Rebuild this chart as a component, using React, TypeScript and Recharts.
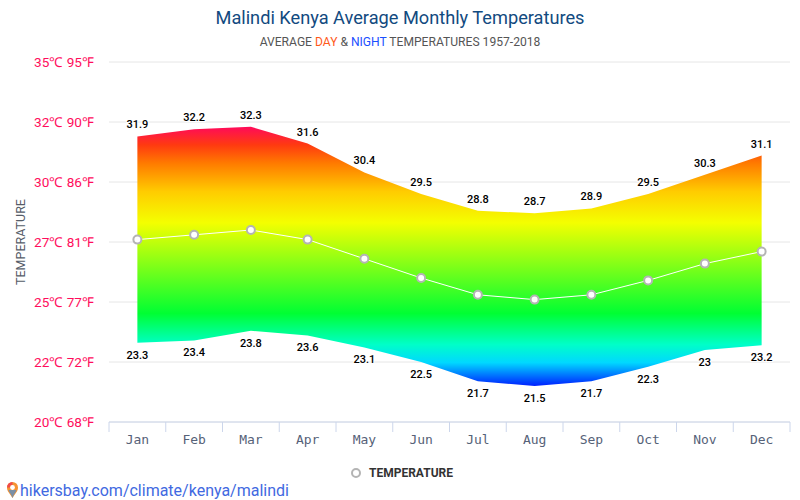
import {
  ComposedChart,
  Area,
  Line,
  XAxis,
  YAxis,
  CartesianGrid,
  LabelList,
  Legend,
} from "recharts";

const months = ["Jan", "Feb", "Mar", "Apr", "May", "Jun", "Jul", "Aug", "Sep", "Oct", "Nov", "Dec"];
const dayTemps = [31.9, 32.2, 32.3, 31.6, 30.4, 29.5, 28.8, 28.7, 28.9, 29.5, 30.3, 31.1];
const nightTemps = [23.3, 23.4, 23.8, 23.6, 23.1, 22.5, 21.7, 21.5, 21.7, 22.3, 23, 23.2];
const meanTemps = [27.6, 27.8, 28, 27.6, 26.8, 26, 25.3, 25.1, 25.3, 25.9, 26.6, 27.1];

const yTicks = [20, 22.5, 25, 27.5, 30, 32.5, 35];
const yLabels = ["20℃ 68℉", "22℃ 72℉", "25℃ 77℉", "27℃ 81℉", "30℃ 86℉", "32℃ 90℉", "35℃ 95℉"];

const chartData = months.map((month, i) => ({
  month,
  range: [nightTemps[i], dayTemps[i]],
  day: dayTemps[i],
  night: nightTemps[i],
  mean: meanTemps[i],
}));

const FONT = "Roboto, sans-serif";
const BAND = 681 / 12;

function MonthTick({ x, y, index, payload }: any) {
  const left = x - BAND / 2;
  return (
    <g>
      <line x1={left} x2={left} y1={422} y2={432} stroke="#ccd6eb" />
      {index === months.length - 1 && (
        <line x1={left + BAND} x2={left + BAND} y1={422} y2={432} stroke="#ccd6eb" />
      )}
      <text
        x={x}
        y={y + 14}
        textAnchor="middle"
        fontFamily="'DejaVu Sans Mono', monospace"
        fontSize={13}
        fill="#566278"
      >
        {payload.value}
      </text>
    </g>
  );
}

function LegendContent() {
  return (
    <svg width={800} height={20} style={{ display: "block" }}>
      <circle cx={356} cy={10} r={4} fill="#fff" stroke="#b4b4b4" strokeWidth={2} />
      <text x={369} y={14} fontFamily={FONT} fontSize={12} fontWeight={700} fill="#333">
        TEMPERATURE
      </text>
    </svg>
  );
}

const labelStyle = {
  fontFamily: FONT,
  fontSize: 11,
  fontWeight: 500,
  fill: "#000",
  stroke: "#fff",
  strokeWidth: 2,
  paintOrder: "stroke",
};

export default function App() {
  return (
    <div style={{ position: "absolute", left: 0, top: 0, width: 800, height: 500, background: "#fff", overflow: "hidden" }}>
      <div style={{ position: "absolute", left: 0, width: 800, top: 7, textAlign: "center", fontFamily: FONT, fontSize: 18.2, lineHeight: "22px", color: "#124a80" }}>
        Malindi Kenya Average Monthly Temperatures
      </div>
      <div style={{ position: "absolute", left: 0, width: 800, top: 34, textAlign: "center", fontFamily: FONT, fontSize: 12.1, lineHeight: "16px", color: "#555" }}>
        AVERAGE <span style={{ color: "#ff5a1a" }}>DAY</span> &amp; <span style={{ color: "#1a4fff" }}>NIGHT</span> TEMPERATURES 1957-2018
      </div>

      <ComposedChart
        width={800}
        height={500}
        data={chartData}
        margin={{ top: 62, right: 10, bottom: 28, left: 0 }}
      >
        <defs>
          <linearGradient id="tempFill" x1="0" y1="0" x2="0" y2="1">
            <stop offset="0" stopColor="#ff0a5a" />
            <stop offset="0.07" stopColor="#ff3a10" />
            <stop offset="0.14" stopColor="#ff7a00" />
            <stop offset="0.25" stopColor="#ffcc00" />
            <stop offset="0.37" stopColor="#f4ff00" />
            <stop offset="0.72" stopColor="#00ff33" />
            <stop offset="0.84" stopColor="#00ffc8" />
            <stop offset="0.91" stopColor="#00d8ff" />
            <stop offset="1" stopColor="#0020ff" />
          </linearGradient>
        </defs>
        <CartesianGrid horizontal vertical={false} stroke="#e6e6e6" />
        <XAxis
          dataKey="month"
          scale="band"
          axisLine={{ stroke: "#ccd6eb" }}
          tickLine={false}
          tick={<MonthTick />}
          interval={0}
        />
        <YAxis
          width={109}
          domain={[20, 35]}
          ticks={yTicks}
          interval={0}
          axisLine={false}
          tickLine={false}
          tickSize={0}
          tickMargin={15}
          tick={{ fontFamily: FONT, fontSize: 13.6, fill: "#ff0d5c" }}
          tickFormatter={(v: number) => yLabels[yTicks.indexOf(v)]}
          label={{
            value: "TEMPERATURE",
            angle: -90,
            position: "insideLeft",
            offset: 21,
            style: { fontFamily: FONT, fontSize: 12.5, fill: "#555c68", textAnchor: "middle" },
          }}
        />
        <Legend verticalAlign="bottom" content={<LegendContent />} wrapperStyle={{ left: 0, top: 463, width: 800 }} />
        <Area
          dataKey="range"
          type="linear"
          stroke="none"
          fill="url(#tempFill)"
          fillOpacity={1}
          dot={false}
          activeDot={false}
          isAnimationActive={false}
          legendType="none"
        />
        <Line
          dataKey="mean"
          type="linear"
          stroke="#fff"
          strokeWidth={1}
          dot={{ r: 4, fill: "#fff", stroke: "#b4b4b4", strokeWidth: 2 }}
          activeDot={false}
          isAnimationActive={false}
        />
        <Line dataKey="day" stroke="none" dot={false} activeDot={false} isAnimationActive={false} legendType="none">
          <LabelList dataKey="day" position="top" offset={8} style={labelStyle} />
        </Line>
        <Line dataKey="night" stroke="none" dot={false} activeDot={false} isAnimationActive={false} legendType="none">
          <LabelList dataKey="night" position="bottom" offset={8} style={labelStyle} />
        </Line>
      </ComposedChart>

      <div style={{ position: "absolute", left: 5, top: 480, height: 20, display: "flex", alignItems: "center", fontFamily: FONT, fontSize: 16, color: "#4169e1" }}>
        <svg width={15} height={18} viewBox="0 0 15 18" style={{ display: "block" }}>
          <path d="M7.5 17 C5 12.5 2 10.5 2 6.5 A5.5 5.5 0 0 1 13 6.5 C13 10.5 10 12.5 7.5 17 Z" fill="#f59331" />
          <path d="M7.5 17 C6 13 4 11 3.5 9 L11.5 9 C11 11 9 13 7.5 17 Z" fill="#7a8fa6" />
          <path d="M2 6.5 A5.5 5.5 0 0 1 7.5 1 L7.5 4 A2.5 2.5 0 0 0 5 6.5 Z" fill="#ef4b4b" />
          <circle cx={7.5} cy={6.5} r={2.4} fill="#fff" />
        </svg>
        <span>hikersbay.com/climate/kenya/malindi</span>
      </div>
    </div>
  );
}
